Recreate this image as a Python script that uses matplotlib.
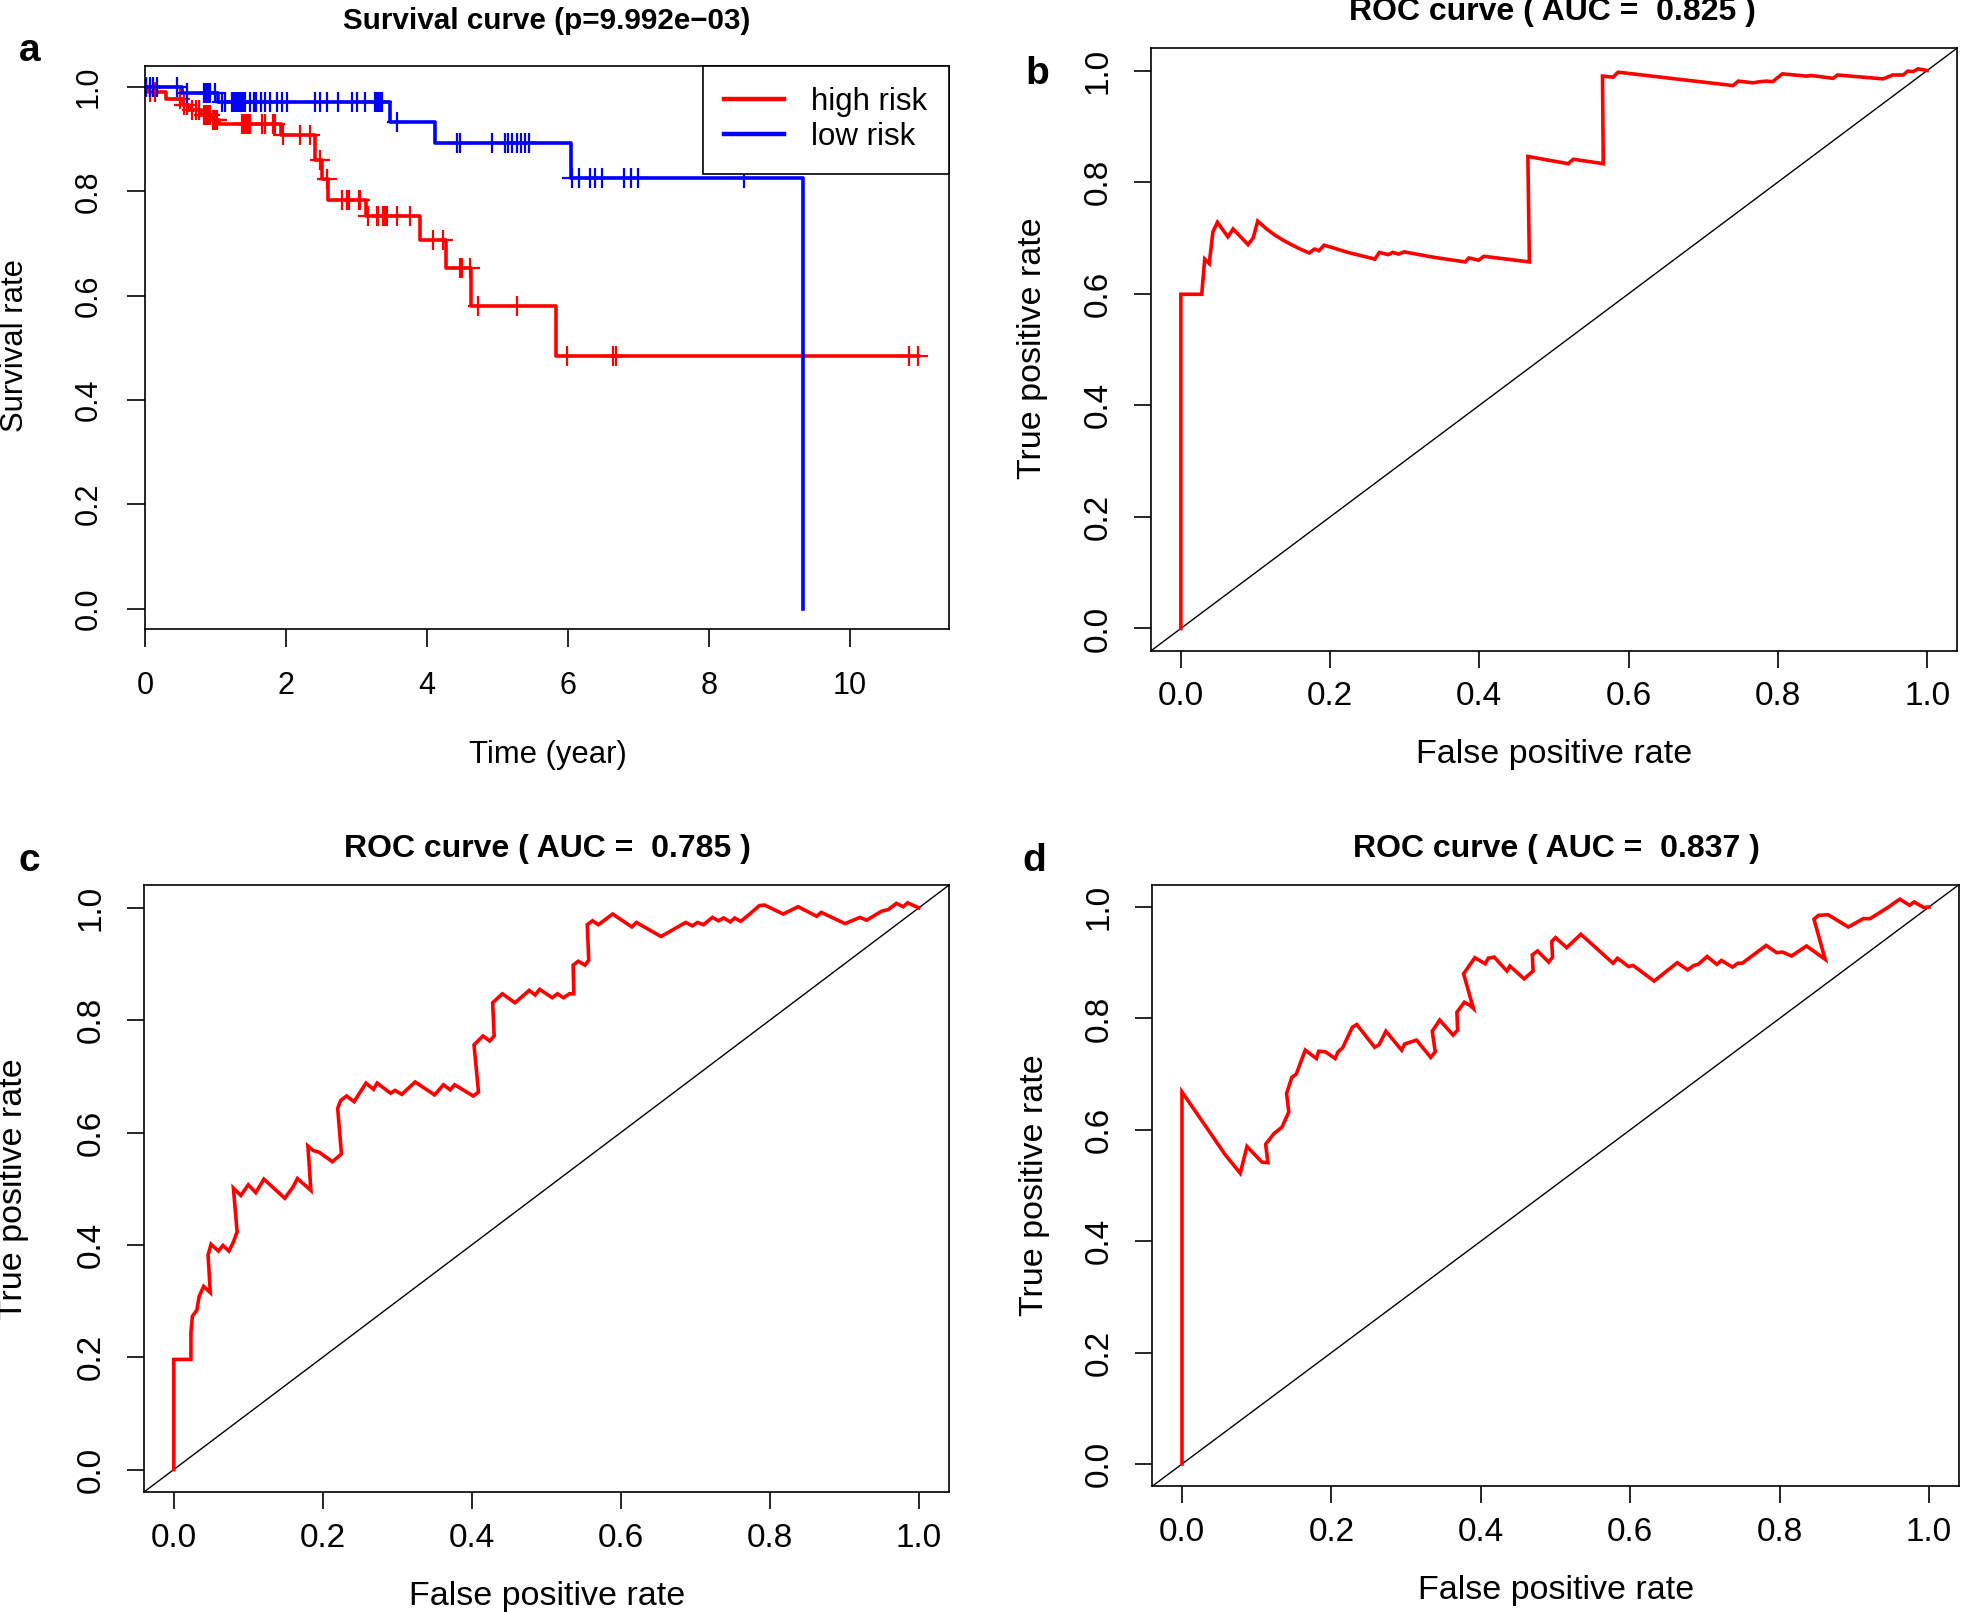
import matplotlib
matplotlib.use('Agg')
import matplotlib.pyplot as plt
import numpy as np

W, H = 1961, 1612
RED = '#FF0000'
BLUE = '#0000FF'

# ---- survival curve (panel a) ----
red_time = [0, 0.05, 0.30, 0.54, 0.62, 0.80, 0.95, 1.05, 1.93, 2.41, 2.51, 2.60, 3.14, 3.90, 4.27, 4.63, 5.83]
red_surv = [1.0, 0.990, 0.977, 0.966, 0.956, 0.946, 0.937, 0.929, 0.908, 0.860, 0.823, 0.783, 0.753, 0.707, 0.652, 0.580, 0.484]
red_end = 10.97
red_censor = [0.02, 0.07, 0.14, 0.50, 0.56, 0.59, 0.66, 0.73, 0.76, 0.83, 0.87, 0.90, 0.92, 0.97, 0.99, 1.02,
              1.37, 1.39, 1.42, 1.44, 1.46, 1.49, 1.66, 1.70, 1.82, 1.85, 1.96, 2.20, 2.34, 2.48, 2.58,
              2.79, 2.86, 2.89, 3.03, 3.05, 3.17, 3.29, 3.31, 3.38, 3.40, 3.43, 3.57, 3.76, 4.09, 4.23,
              4.47, 4.49, 4.61, 4.73, 5.27, 5.98, 6.64, 6.68, 10.84, 10.97]

blue_time = [0, 0.52, 1.03, 3.48, 4.12, 6.04, 9.34]
blue_surv = [1.0, 0.988, 0.972, 0.933, 0.892, 0.825, 0.0]
blue_censor = [0.02, 0.07, 0.12, 0.17, 0.45, 0.60, 0.83, 0.85, 0.87, 0.90, 0.92, 0.99,
               1.09, 1.13, 1.23, 1.25, 1.28, 1.30, 1.32, 1.35, 1.37, 1.39, 1.42, 1.49, 1.54, 1.58,
               1.65, 1.70, 1.77, 1.87, 1.94, 2.01, 2.41, 2.48, 2.58, 2.74, 2.93, 3.00, 3.12, 3.26,
               3.29, 3.31, 3.33, 3.36, 3.57, 4.42, 4.47, 4.92, 5.11, 5.15, 5.20, 5.27, 5.34, 5.39,
               5.45, 6.05, 6.16, 6.31, 6.38, 6.48, 6.79, 6.90, 6.99, 8.49]

# ---- ROC curves ----
b_fpr = [0, 0, 0.028, 0.032, 0.038, 0.043, 0.049, 0.063, 0.070, 0.090, 0.097, 0.103, 0.115, 0.126, 0.137,
         0.148, 0.160, 0.172, 0.179, 0.185, 0.192, 0.224, 0.260, 0.266, 0.278, 0.284, 0.292, 0.299, 0.340,
         0.381, 0.386, 0.399, 0.406, 0.467, 0.465, 0.519, 0.526, 0.566, 0.565, 0.579, 0.586, 0.740, 0.747,
         0.767, 0.776, 0.785, 0.793, 0.806, 0.838, 0.845, 0.874, 0.880, 0.941, 0.954, 0.968, 0.974, 0.981,
         0.988, 1.0]
b_tpr = [0, 0.599, 0.599, 0.662, 0.654, 0.711, 0.728, 0.702, 0.716, 0.688, 0.700, 0.730, 0.716, 0.705, 0.696,
         0.688, 0.680, 0.673, 0.680, 0.677, 0.687, 0.674, 0.662, 0.674, 0.670, 0.674, 0.671, 0.675, 0.665,
         0.657, 0.664, 0.660, 0.667, 0.657, 0.846, 0.833, 0.841, 0.833, 0.990, 0.988, 0.997, 0.973, 0.981,
         0.978, 0.980, 0.981, 0.980, 0.994, 0.990, 0.991, 0.986, 0.992, 0.985, 0.992, 0.992, 0.999, 0.998,
         1.003, 1.0]

c_fpr = [0, 0, 0.023, 0.023, 0.025, 0.031, 0.034, 0.040, 0.049, 0.046, 0.050, 0.060, 0.066, 0.074, 0.080,
         0.085, 0.080, 0.090, 0.100, 0.110, 0.121, 0.149, 0.160, 0.166, 0.184, 0.180, 0.187, 0.195, 0.213,
         0.225, 0.220, 0.224, 0.232, 0.242, 0.258, 0.268, 0.273, 0.291, 0.297, 0.306, 0.324, 0.350, 0.362,
         0.371, 0.377, 0.402, 0.409, 0.403, 0.415, 0.424, 0.430, 0.428, 0.441, 0.458, 0.477, 0.485, 0.491,
         0.508, 0.515, 0.523, 0.531, 0.537, 0.536, 0.543, 0.552, 0.557, 0.555, 0.562, 0.570, 0.589, 0.615,
         0.621, 0.654, 0.687, 0.696, 0.703, 0.711, 0.723, 0.731, 0.738, 0.747, 0.753, 0.761, 0.773, 0.786,
         0.793, 0.818, 0.838, 0.863, 0.869, 0.901, 0.921, 0.930, 0.950, 0.959, 0.970, 0.979, 0.985, 1.0]
c_tpr = [0, 0.196, 0.196, 0.245, 0.273, 0.284, 0.308, 0.326, 0.315, 0.382, 0.401, 0.389, 0.399, 0.389, 0.405,
         0.423, 0.501, 0.488, 0.507, 0.493, 0.517, 0.483, 0.503, 0.518, 0.497, 0.576, 0.568, 0.565, 0.548,
         0.562, 0.643, 0.657, 0.665, 0.655, 0.688, 0.677, 0.688, 0.670, 0.675, 0.668, 0.690, 0.667, 0.685,
         0.676, 0.685, 0.665, 0.672, 0.756, 0.772, 0.763, 0.772, 0.831, 0.847, 0.831, 0.853, 0.845, 0.855,
         0.840, 0.847, 0.840, 0.847, 0.847, 0.898, 0.905, 0.898, 0.907, 0.970, 0.977, 0.970, 0.989, 0.966,
         0.974, 0.949, 0.974, 0.968, 0.974, 0.970, 0.983, 0.977, 0.982, 0.975, 0.982, 0.976, 0.989, 1.004,
         1.005, 0.989, 1.002, 0.985, 0.992, 0.972, 0.983, 0.978, 0.994, 0.997, 1.008, 1.002, 1.009, 1.0]

d_fpr = [0, 0, 0.035, 0.058, 0.078, 0.087, 0.107, 0.115, 0.112, 0.123, 0.134, 0.143, 0.140, 0.147, 0.153,
         0.165, 0.180, 0.183, 0.192, 0.205, 0.209, 0.215, 0.228, 0.234, 0.258, 0.264, 0.273, 0.294, 0.298,
         0.314, 0.333, 0.339, 0.335, 0.345, 0.363, 0.369, 0.368, 0.378, 0.385, 0.390, 0.377, 0.392, 0.406,
         0.410, 0.418, 0.435, 0.439, 0.458, 0.470, 0.469, 0.476, 0.491, 0.496, 0.495, 0.500, 0.515, 0.534,
         0.577, 0.583, 0.598, 0.604, 0.632, 0.663, 0.677, 0.685, 0.691, 0.703, 0.716, 0.722, 0.737, 0.744,
         0.750, 0.782, 0.796, 0.804, 0.816, 0.836, 0.861, 0.846, 0.852, 0.865, 0.892, 0.912, 0.921, 0.946,
         0.952, 0.961, 0.974, 0.980, 0.993, 1.0]
d_tpr = [0, 0.668, 0.600, 0.555, 0.522, 0.570, 0.542, 0.541, 0.574, 0.593, 0.605, 0.632, 0.665, 0.694, 0.700,
         0.743, 0.728, 0.741, 0.740, 0.728, 0.740, 0.747, 0.784, 0.789, 0.748, 0.753, 0.777, 0.743, 0.754,
         0.761, 0.730, 0.740, 0.777, 0.797, 0.770, 0.779, 0.811, 0.829, 0.824, 0.818, 0.880, 0.909, 0.898,
         0.908, 0.910, 0.885, 0.894, 0.871, 0.885, 0.914, 0.921, 0.901, 0.910, 0.938, 0.945, 0.927, 0.951,
         0.899, 0.908, 0.893, 0.895, 0.867, 0.900, 0.887, 0.895, 0.897, 0.911, 0.897, 0.904, 0.892, 0.899,
         0.899, 0.931, 0.918, 0.919, 0.912, 0.930, 0.906, 0.978, 0.985, 0.986, 0.964, 0.979, 0.979, 1.000,
         1.006, 1.014, 1.003, 1.009, 0.999, 1.0]

roc_ticks = [0, 0.2, 0.4, 0.6, 0.8, 1.0]

plt.rcParams['font.family'] = ['Liberation Sans', 'DejaVu Sans']


def px_box(left, top, right, bottom):
    return [left / W, 1 - bottom / H, (right - left) / W, (bottom - top) / H]


def ftext(x, y, s, **kw):
    fig.text(x / W, 1 - y / H, s, **kw)


def style_axes(ax, fs, tick_len, xpad, ypad):
    for sp in ax.spines.values():
        sp.set_linewidth(1.2)
    ax.tick_params(direction='out', length=tick_len, width=1.2, labelsize=fs, colors='black')
    ax.tick_params(axis='x', pad=xpad)
    ax.tick_params(axis='y', pad=ypad, labelrotation=90)
    plt.setp(ax.get_yticklabels(), va='center')


def step_at(times, surv, t):
    idx = np.searchsorted(times, t, side='right') - 1
    return np.asarray(surv)[idx]


fig = plt.figure(figsize=(W / 100, H / 100), dpi=100)

# ---- a: survival ----
ax = fig.add_axes(px_box(145, 66.1, 948.7, 629.4))
ax.step(red_time + [red_end], red_surv + [red_surv[-1]], where='post', color=RED, lw=2.6, label='high risk')
ax.step(blue_time, blue_surv, where='post', color=BLUE, lw=2.6, label='low risk')
ax.plot(red_censor, step_at(red_time, red_surv, red_censor), ls='none', marker='+',
        ms=14, mew=1.6, color=RED)
ax.plot(blue_censor, step_at(blue_time, blue_surv, blue_censor), ls='none', marker='+',
        ms=14, mew=1.6, color=BLUE)
ax.set_xlim(0, 11.4)
ax.set_ylim(-0.04, 1.04)
ax.set_xticks([0, 2, 4, 6, 8, 10])
ax.set_yticks(roc_ticks)
ax.set_yticklabels([f'{v:.1f}' for v in roc_ticks])
style_axes(ax, 22, 13, 17, 17)
leg = ax.legend(loc='upper right', borderaxespad=0, fontsize=22.5, frameon=True, fancybox=False,
                edgecolor='black', framealpha=1, handlelength=1.92, handletextpad=0.86,
                borderpad=0.68, labelspacing=0.16)
leg.get_frame().set_linewidth(1.2)
for ln in leg.get_lines():
    ln.set_linewidth(3.2)

ftext(547, 29, 'Survival curve (p=9.992e\u221203)', ha='center', va='baseline',
      fontsize=21.3, fontweight='bold')
ftext(548, 755, 'Time (year)', ha='center', va='center', fontsize=22.3)
ftext(15, 346, 'Survival rate', ha='center', va='center', rotation=90, fontsize=22.3)
ftext(19, 61, 'a', ha='left', va='baseline', fontsize=28, fontweight='bold')

# ---- ROC panels ----
panels = [
    ('b', b_fpr, b_tpr, '0.825', (1151, 48.2, 1957, 650.8), 1552, 20, (1033, 348), (1554, 754), (1025, 84)),
    ('c', c_fpr, c_tpr, '0.785', (144, 885.4, 948.6, 1492), 547, 857, (14, 1189), (547, 1596), (19, 871)),
    ('d', d_fpr, d_tpr, '0.837', (1152.1, 884.7, 1958.9, 1486.3), 1556, 857, (1035, 1185), (1556, 1590), (1022, 871)),
]
for letter, fpr, tpr, auc, box, tx, ty, ylab, xlab, lpos in panels:
    ax = fig.add_axes(px_box(*box))
    ax.plot([-0.04, 1.04], [-0.04, 1.04], color='black', lw=1.0)
    ax.plot(fpr, tpr, color=RED, lw=2.6, solid_joinstyle='miter')
    ax.set_xlim(-0.04, 1.04)
    ax.set_ylim(-0.04, 1.04)
    ax.set_xticks(roc_ticks)
    ax.set_xticklabels([f'{v:.1f}' for v in roc_ticks])
    ax.set_yticks(roc_ticks)
    ax.set_yticklabels([f'{v:.1f}' for v in roc_ticks])
    style_axes(ax, 24, 12, 10, 15)
    ftext(tx, ty, f'ROC curve ( AUC =  {auc} )', ha='center', va='baseline',
          fontsize=23, fontweight='bold')
    ftext(ylab[0], ylab[1], 'True positive rate', ha='center', va='center', rotation=90, fontsize=24.5)
    ftext(xlab[0], xlab[1], 'False positive rate', ha='center', va='center', fontsize=24.5)
    ftext(lpos[0], lpos[1], letter, ha='left', va='baseline', fontsize=28, fontweight='bold')

fig.savefig('out.png', dpi=100, facecolor='white')
